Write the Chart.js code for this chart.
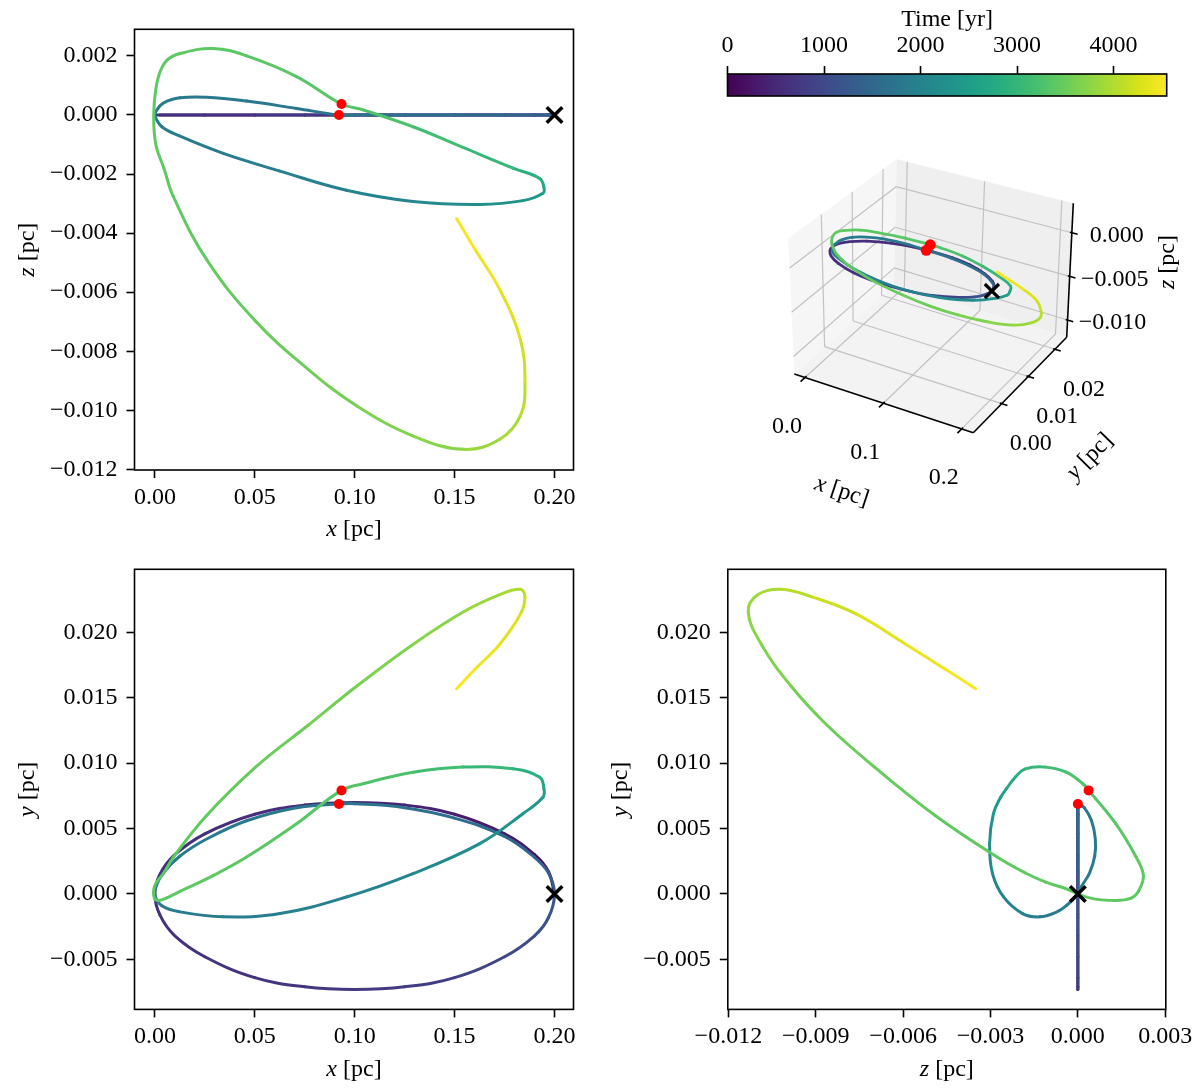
<!DOCTYPE html>
<html><head><meta charset="utf-8">
<script src="https://cdn.jsdelivr.net/npm/chart.js@4.4.1/dist/chart.umd.min.js"></script>
<style>
html,body{margin:0;padding:0;background:#fff;}
#page{position:relative;width:1200px;height:1091px;overflow:hidden;background:#fff;}
canvas{position:absolute;}
</style></head><body><div id="page">
<canvas id="cXZ" width="600" height="545" style="left:0;top:0"></canvas>
<canvas id="cXY" width="600" height="546" style="left:0;top:545px"></canvas>
<canvas id="cZY" width="600" height="546" style="left:600px;top:545px"></canvas>
<canvas id="c3d" width="500" height="420" style="left:700px;top:120px"></canvas>
<canvas id="cBar" width="500" height="110" style="left:700px;top:0"></canvas>
</div>
<script>
// ---------------- data ----------------
const trajX = [0.2000,0.1970,0.1900,0.1750,0.1500,0.1250,0.1000,0.0750,0.0500,0.0250,0.0100,0.0025,0.0000,
  0.0025,0.0100,0.0250,0.0500,0.0750,0.1000,0.1250,0.1500,0.1750,0.1900,0.1970,0.2000,
  0.1970,0.1900,0.1750,0.1500,0.1250,0.1000,0.0921,
  0.0709,0.0459,0.0259,0.0126,0.0042,0.0006,0.0000,0.0035,0.0126,0.0342,0.0626,0.0959,0.1292,0.1626,0.1842,0.1942,0.1947,0.1926,0.1792,0.1542,0.1292,0.1042,0.0934,
  0.0709,0.0459,0.0292,0.0126,0.0060,0.0018,-0.0003,-0.0005,0.0008,0.0045,0.0092,0.0259,0.0504,0.0767,0.1011,0.1293,0.1547,0.1726,0.1829,0.1852,0.1829,0.1726,0.1603,0.1510];
const trajY = [0.0000,0.0017,0.0030,0.0046,0.0061,0.0068,0.0070,0.0068,0.0061,0.0046,0.0030,0.0015,0.0000,
  -0.0016,-0.0032,-0.0048,-0.0064,-0.0071,-0.0073,-0.0071,-0.0064,-0.0048,-0.0032,-0.0018,0.0000,
  0.0016,0.0028,0.0044,0.0058,0.0066,0.0069,0.00688,
  0.0066,0.0056,0.0042,0.0029,0.0016,0.0006,-0.0001,-0.0009,-0.00137,-0.00175,-0.0015,-0.00023,0.00156,0.00385,0.00614,0.0074,0.00805,0.00893,0.00957,0.0097,0.00931,0.00843,0.00792,
  0.00537,0.00282,0.0014,0.0002,-0.0003,-0.0005,-0.0003,0.0004,0.0009,0.0016,0.0028,0.0060,0.0097,0.0129,0.0159,0.0191,0.0216,0.0229,0.0233,0.0227,0.0214,0.0191,0.0172,0.0157];
const trajZ = [0,0,0,0,0,0,0,0,0,0,0,0,0,
  0,0,0,0,0,0,0,0,0,0,0,0,
  0,0,0,0,0,0,0,
  0.00022,0.00047,0.00060,0.00058,0.00040,0.00013,-0.00003,-0.0004,-0.00072,-0.0013,-0.0019,-0.00255,-0.00293,-0.00303,-0.0029,-0.00265,-0.00245,-0.00215,-0.0018,-0.0011,-0.0004,0.00017,0.00037,
  0.0013,0.0020,0.00225,0.00208,0.00185,0.0013,0.0004,-0.0004,-0.0011,-0.0018,-0.00276,-0.0049,-0.00698,-0.00861,-0.00985,-0.01087,-0.01132,-0.01098,-0.01019,-0.0091,-0.0076,-0.00591,-0.00456,-0.00351];
const trajT = [0,90,173,272,377,451,507,551,584,608,617,619,620,
  621,623,632,656,689,733,789,863,968,1067,1150,1240,
  1330,1413,1512,1617,1691,1747,1760,
  1800,1830,1850,1862,1868,1871,1873,1876,1882,1900,1935,1990,2080,2200,2350,2480,2650,2800,2950,3100,3220,3300,3330,
  3360,3385,3398,3406,3409,3411,3413,3414,3416,3418,3422,3440,3480,3530,3600,3690,3790,3900,4000,4110,4250,4380,4470,4550];
const kickX = [0.0921, 0.0934];
const kickY = [0.00688, 0.00792];
const kickZ = [0.0, 0.00037];
const startX = [0.2];
const startY = [0.0];
const startZ = [0.0];
const tMax = 4550;

// tick labels
const xTicks = [0, 0.05, 0.10, 0.15, 0.20];
const zTicksXZ = [0.002, 0, -0.002, -0.004, -0.006, -0.008, -0.010, -0.012];
const yTicks = [0.020, 0.015, 0.010, 0.005, 0, -0.005];
const zTicksZY = [-0.012, -0.009, -0.006, -0.003, 0, 0.003];
const timeTicks = [0, 1000, 2000, 3000, 4000];
const x3dTicks = [0, 0.1, 0.2];
const y3dTicks = [0, 0.01, 0.02];
const z3dTicks = [0, -0.005, -0.010];

// ---------------- helpers ----------------
const FAM = "'Liberation Serif', 'Times New Roman', serif";
const FS = 24;
const tickFont = { family: FAM, size: FS };
const fmt = (v, d) => (v < -1e-12 ? '\u2212' : '') + Math.abs(v).toFixed(d);
const VIR = ['#440154','#48186a','#472d7b','#424086','#3b528b','#33638d','#2c728e','#26828e','#21918c','#1fa088','#28ae80','#3fbc73','#5ec962','#84d44b','#addc30','#d8e219','#fde725'];
function hexRGB(h){ return [parseInt(h.slice(1,3),16), parseInt(h.slice(3,5),16), parseInt(h.slice(5,7),16)]; }
function viridis(f){
  f = Math.max(0, Math.min(1, f));
  const s = f * (VIR.length - 1);
  const i = Math.min(VIR.length - 2, Math.floor(s));
  const u = s - i, a = hexRGB(VIR[i]), b = hexRGB(VIR[i + 1]);
  return 'rgb(' + a.map((c, k) => Math.round(c + (b[k] - c) * u)).join(',') + ')';
}
const segColor = c => viridis((trajT[c.p0DataIndex] + trajT[c.p1DataIndex]) / 2 / tMax);

function drawVarLabel(ctx, cx, cy, rot, v, unit) {
  ctx.save();
  ctx.translate(cx, cy); ctx.rotate(rot);
  const fi = "italic " + FS + "px " + FAM, fr = FS + "px " + FAM;
  ctx.font = fi; const w1 = ctx.measureText(v).width;
  ctx.font = fr; const w2 = ctx.measureText(unit).width;
  const x0 = -(w1 + w2) / 2;
  ctx.textBaseline = 'middle'; ctx.textAlign = 'left'; ctx.fillStyle = '#000';
  ctx.font = fi; ctx.fillText(v, x0, 0);
  ctx.font = fr; ctx.fillText(unit, x0 + w1, 0);
  ctx.restore();
}

function trajDatasets(pts, kp, sp, lw, kr, sr, sw, clip) {
  return [
    { data: pts, showLine: true, pointRadius: 0, borderWidth: lw, tension: 0.4,
      borderCapStyle: 'round', borderJoinStyle: 'round', borderColor: viridis(0),
      segment: { borderColor: segColor }, order: 3, clip: clip },
    { data: kp, showLine: false, pointRadius: kr, backgroundColor: '#ff0000', borderWidth: 0, order: 2, clip: clip },
    { data: sp, showLine: false, pointStyle: 'crossRot', pointRadius: sr, borderColor: '#000',
      backgroundColor: '#000', borderWidth: sw, order: 1, clip: clip }
  ];
}

function make2D(id, W, H, area, hA, vA, hK, vK, hS, vS, hRange, vRange, hT, vT, hD, vD, hName, vName) {
  const pts = hA.map((v, i) => ({ x: v, y: vA[i] }));
  const kp = hK.map((v, i) => ({ x: v, y: vK[i] }));
  const sp = hS.map((v, i) => ({ x: v, y: vS[i] }));
  const frame = {
    id: 'frame',
    afterDraw(chart) {
      const { ctx, chartArea: a } = chart;
      ctx.save();
      ctx.strokeStyle = '#000'; ctx.lineWidth = 1.6;
      ctx.strokeRect(a.left, a.top, a.right - a.left, a.bottom - a.top);
      ctx.restore();
      drawVarLabel(ctx, (a.left + a.right) / 2, a.bottom + 60, 0, hName, ' [pc]');
      drawVarLabel(ctx, a.left - 107, (a.top + a.bottom) / 2, -Math.PI / 2, vName, ' [pc]');
    }
  };
  const gridCfg = { drawOnChartArea: false, drawTicks: true, tickLength: 8, tickWidth: 1.6, tickColor: '#000', color: '#000' };
  new Chart(document.getElementById(id), {
    type: 'scatter',
    data: { datasets: trajDatasets(pts, kp, sp, 3, 5, 11, 3.5, undefined) },
    options: {
      responsive: false, animation: false, events: [],
      plugins: { legend: { display: false }, tooltip: { enabled: false } },
      layout: { autoPadding: false, padding: { left: 0, top: area.top, right: W - area.right, bottom: 0 } },
      scales: {
        x: { type: 'linear', min: hRange[0], max: hRange[1],
             afterBuildTicks: s => { s.ticks = hT.map(v => ({ value: v })); },
             afterFit: s => { s.height = H - area.bottom; },
             ticks: { callback: v => fmt(v, hD), font: tickFont, color: '#000', padding: 5, maxRotation: 0, minRotation: 0, autoSkip: false },
             grid: gridCfg, border: { display: false } },
        y: { type: 'linear', min: vRange[0], max: vRange[1],
             afterBuildTicks: s => { s.ticks = vT.map(v => ({ value: v })); },
             afterFit: s => { s.width = area.left; },
             ticks: { callback: v => fmt(v, vD), font: tickFont, color: '#000', padding: 9, autoSkip: false },
             grid: gridCfg, border: { display: false } }
      }
    },
    plugins: [frame]
  });
}

// ---------------- 2D panels ----------------
make2D('cXZ', 600, 545, { left: 134.5, top: 29.3, right: 573.5, bottom: 470 },
  trajX, trajZ, kickX, kickZ, startX, startZ,
  [-0.0102, 0.2095], [-0.01202, 0.0029], xTicks, zTicksXZ, 2, 3, 'x', 'z');
make2D('cXY', 600, 546, { left: 134.5, top: 24.3, right: 573.5, bottom: 464.4 },
  trajX, trajY, kickX, kickY, startX, startY,
  [-0.0102, 0.2095], [-0.00883, 0.02483], xTicks, yTicks, 2, 3, 'x', 'y');
make2D('cZY', 600, 546, { left: 127.8, top: 24.3, right: 565.8, bottom: 464.4 },
  trajZ, trajY, kickZ, kickY, startZ, startY,
  [-0.01202, 0.00302], [-0.00883, 0.02483], zTicksZY, yTicks, 3, 3, 'z', 'y');

// ---------------- 3D panel ----------------
const BOX = { x0: -0.01366, x1: 0.2148, y0: -0.01066, y1: 0.02439, z0: -0.01198, z1: 0.00337 };
// page positions of the eight box corners (layout)
const CORN = { A: [794.3, 374], B: [973.3, 432.7], C: [1066.7, 337.3], D: [894, 284],
               A2: [788.3, 238.3], B2: [974, 290], C2: [1073.3, 203.3], D2: [896.7, 159.3] };
function lerp2(p, q, t) { return [p[0] + (q[0] - p[0]) * t, p[1] + (q[1] - p[1]) * t]; }
function proj(x, y, z) {
  const u = (x - BOX.x0) / (BOX.x1 - BOX.x0), v = (y - BOX.y0) / (BOX.y1 - BOX.y0), w = (z - BOX.z0) / (BOX.z1 - BOX.z0);
  const f0 = lerp2(lerp2(CORN.A, CORN.B, u), lerp2(CORN.D, CORN.C, u), v);
  const f1 = lerp2(lerp2(CORN.A2, CORN.B2, u), lerp2(CORN.D2, CORN.C2, u), v);
  return lerp2(f0, f1, w);
}
const box3d = {
  id: 'box3d',
  beforeDatasetsDraw(chart) {
    const ctx = chart.ctx, sx = chart.scales.x, sy = chart.scales.y;
    const pg = p => [sx.getPixelForValue(p[0]), sy.getPixelForValue(p[1])];
    const P = (x, y, z) => pg(proj(x, y, z));
    const { x0, x1, y0, y1, z0, z1 } = BOX;
    ctx.save();
    const poly = (pts, fill) => { ctx.beginPath(); pts.forEach((p, i) => i ? ctx.lineTo(p[0], p[1]) : ctx.moveTo(p[0], p[1])); ctx.closePath(); ctx.fillStyle = fill; ctx.fill(); };
    const seg = (a, b, col, w) => { ctx.beginPath(); ctx.moveTo(a[0], a[1]); ctx.lineTo(b[0], b[1]); ctx.strokeStyle = col; ctx.lineWidth = w; ctx.stroke(); };
    poly([P(x0, y0, z0), P(x0, y1, z0), P(x0, y1, z1), P(x0, y0, z1)], '#f6f6f6');
    poly([P(x0, y1, z0), P(x1, y1, z0), P(x1, y1, z1), P(x0, y1, z1)], '#efefef');
    poly([P(x0, y0, z0), P(x1, y0, z0), P(x1, y1, z0), P(x0, y1, z0)], '#f3f3f3');
    const gc = '#c2c2c2', gw = 1.2;
    x3dTicks.forEach(t => { seg(P(t, y0, z0), P(t, y1, z0), gc, gw); seg(P(t, y1, z0), P(t, y1, z1), gc, gw); });
    y3dTicks.forEach(t => { seg(P(x0, t, z0), P(x1, t, z0), gc, gw); seg(P(x0, t, z0), P(x0, t, z1), gc, gw); });
    z3dTicks.forEach(t => { seg(P(x0, y0, t), P(x0, y1, t), gc, gw); seg(P(x0, y1, t), P(x1, y1, t), gc, gw); });
    // axis lines
    seg(P(x0, y0, z0), P(x1, y0, z0), '#000', 1.6);
    seg(P(x1, y0, z0), P(x1, y1, z0), '#000', 1.6);
    seg(P(x1, y1, z0), P(x1, y1, z1), '#000', 1.6);
    const tick = (p, q) => { const dx = p[0] - q[0], dy = p[1] - q[1], L = Math.hypot(dx, dy); const ux = dx / L, uy = dy / L; seg([p[0] - 2 * ux, p[1] - 2 * uy], [p[0] + 6 * ux, p[1] + 6 * uy], '#000', 1.6); };
    ctx.fillStyle = '#000'; ctx.font = FS + 'px ' + FAM; ctx.textAlign = 'center'; ctx.textBaseline = 'middle';
    const lab = (pp, off, txt) => { const q = pg([pp[0] + off[0], pp[1] + off[1]]); ctx.fillText(txt, q[0], q[1]); };
    x3dTicks.forEach(t => { tick(P(t, y0, z0), P(t, y1, z0)); lab(proj(t, y0, z0), [-18, 49], fmt(t, 1)); });
    y3dTicks.forEach(t => { tick(P(x1, t, z0), P(x0, t, z0)); lab(proj(x1, t, z0), [29, 40], fmt(t, 2)); });
    z3dTicks.forEach(t => { tick(P(x1, y1, t), P(x0, y1, t)); lab(proj(x1, y1, t), [45, 3], fmt(t, 3)); });
    const xl = pg([841.7, 491.7]), yl = pg([1090, 456.7]), zl = pg([1168, 262]);
    drawVarLabel(ctx, xl[0], xl[1], 18.2 * Math.PI / 180, 'x', ' [pc]');
    drawVarLabel(ctx, yl[0], yl[1], -45.6 * Math.PI / 180, 'y', ' [pc]');
    drawVarLabel(ctx, zl[0], zl[1], -Math.PI / 2, 'z', ' [pc]');
    ctx.restore();
  }
};
(function () {
  const pts = trajX.map((x, i) => { const p = proj(x, trajY[i], trajZ[i]); return { x: p[0], y: p[1] }; });
  const kp = kickX.map((x, i) => { const p = proj(x, kickY[i], kickZ[i]); return { x: p[0], y: p[1] }; });
  const sp = startX.map((x, i) => { const p = proj(x, startY[i], startZ[i]); return { x: p[0], y: p[1] }; });
  new Chart(document.getElementById('c3d'), {
    type: 'scatter',
    data: { datasets: trajDatasets(pts, kp, sp, 2.8, 5.5, 10, 3.2, false) },
    options: {
      responsive: false, animation: false, events: [],
      plugins: { legend: { display: false }, tooltip: { enabled: false } },
      layout: { autoPadding: false, padding: 0 },
      scales: {
        x: { type: 'linear', display: false, min: 700, max: 1200 },
        y: { type: 'linear', display: false, min: 120, max: 540, reverse: true }
      }
    },
    plugins: [box3d]
  });
})();

// ---------------- colorbar ----------------
const cbar = {
  id: 'cbar',
  beforeDatasetsDraw(chart) {
    const { ctx, chartArea: a, scales: { x } } = chart;
    ctx.save();
    const g = ctx.createLinearGradient(x.getPixelForValue(0), 0, x.getPixelForValue(tMax), 0);
    VIR.forEach((c, i) => g.addColorStop(i / (VIR.length - 1), c));
    ctx.fillStyle = g; ctx.fillRect(a.left, a.top, a.right - a.left, a.bottom - a.top);
    ctx.strokeStyle = '#000'; ctx.lineWidth = 1.6; ctx.strokeRect(a.left, a.top, a.right - a.left, a.bottom - a.top);
    ctx.fillStyle = '#000'; ctx.font = FS + 'px ' + FAM; ctx.textAlign = 'center'; ctx.textBaseline = 'middle';
    ctx.fillText('Time [yr]', (a.left + a.right) / 2, 20);
    ctx.restore();
  }
};
new Chart(document.getElementById('cBar'), {
  type: 'scatter',
  data: { datasets: [] },
  options: {
    responsive: false, animation: false, events: [],
    plugins: { legend: { display: false }, tooltip: { enabled: false } },
    layout: { autoPadding: false, padding: { left: 27.5, right: 33.3, top: 0, bottom: 14 } },
    scales: {
      x: { type: 'linear', position: 'top', min: 0, max: tMax,
           afterBuildTicks: s => { s.ticks = timeTicks.map(v => ({ value: v })); },
           afterFit: s => { s.height = 74; },
           ticks: { callback: v => String(v), font: tickFont, color: '#000', padding: 6, maxRotation: 0, autoSkip: false },
           grid: { drawOnChartArea: false, tickLength: 8, tickWidth: 1.6, tickColor: '#000' },
           border: { display: false } },
      y: { type: 'linear', display: false, min: 0, max: 1 }
    }
  },
  plugins: [cbar]
});
</script></body></html>
